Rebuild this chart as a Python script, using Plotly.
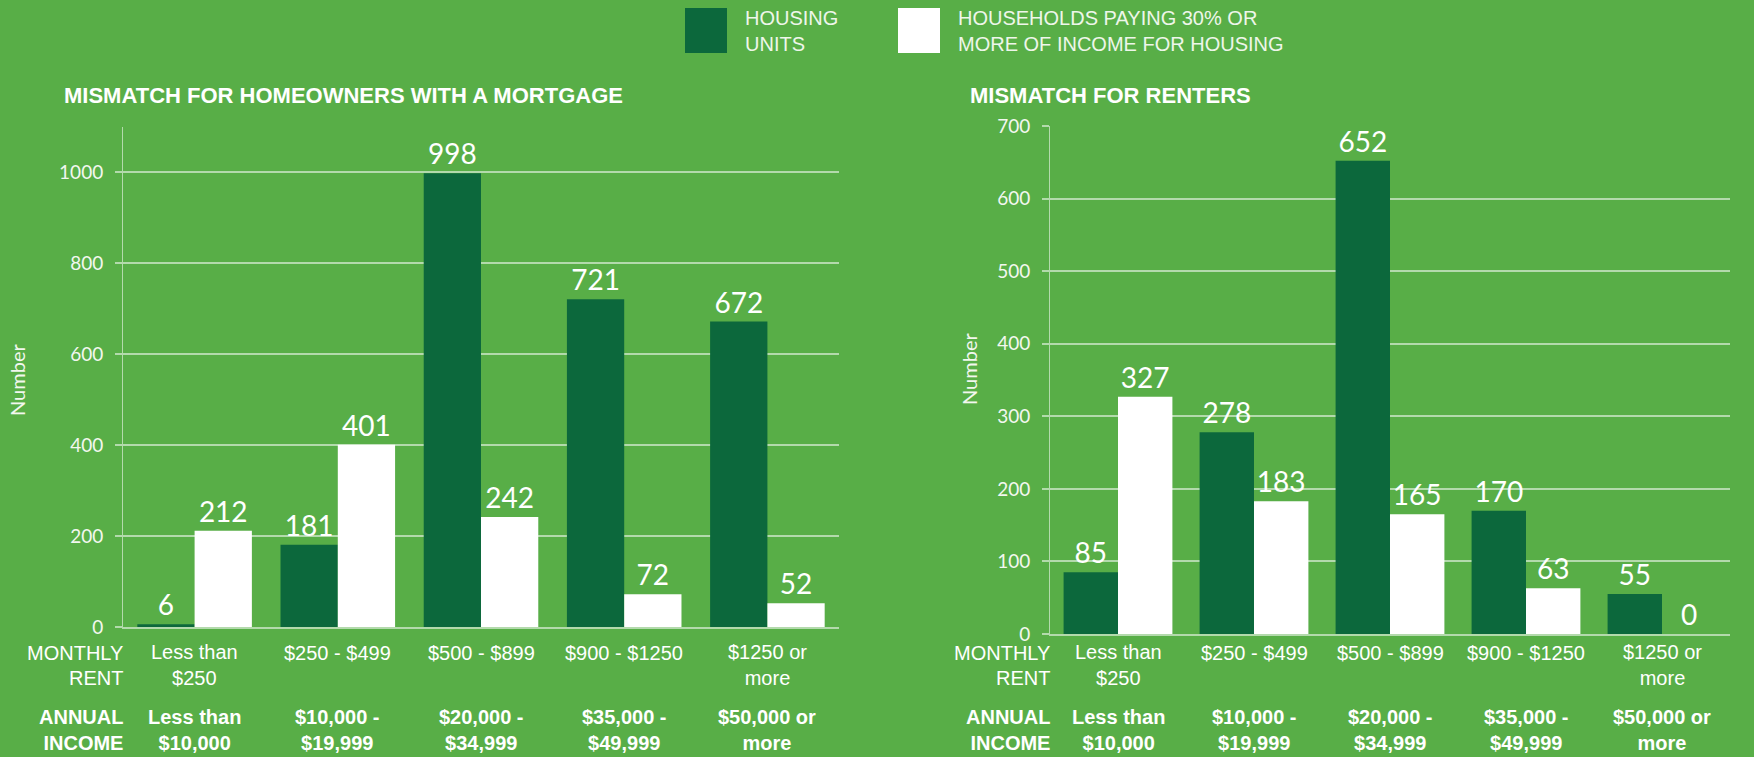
import plotly.graph_objects as go

W, H = 1754, 757

# ---------------- data ----------------
rent_labels = ["Less than<br>$250", "$250 - $499", "$500 - $899", "$900 - $1250", "$1250 or<br>more"]
income_labels = ["Less than<br>$10,000", "$10,000 -<br>$19,999", "$20,000 -<br>$34,999",
                 "$35,000 -<br>$49,999", "$50,000 or<br>more"]
categories = ["c1", "c2", "c3", "c4", "c5"]

owners_units = [6, 181, 998, 721, 672]
owners_burdened = [212, 401, 242, 72, 52]
renters_units = [85, 278, 652, 170, 55]
renters_burdened = [327, 183, 165, 63, 0]

series_names = ["HOUSING<br>UNITS", "HOUSEHOLDS PAYING 30% OR<br>MORE OF INCOME FOR HOUSING"]
chart_titles = ["MISMATCH FOR HOMEOWNERS WITH A MORTGAGE", "MISMATCH FOR RENTERS"]

# ---------------- style ----------------
BG = "#58AE47"
DARK = "#0C683C"
LIGHT = "#FFFFFF"
GRID = "rgba(255,255,255,0.55)"
LABEL_FONT = "Lato, 'Open Sans', sans-serif"
GOTHIC = "'Liberation Sans', Arial, sans-serif"


def px(x):
    return x / W


def py(y):
    return 1 - y / H


fig = go.Figure()

for (units, burdened, xa, ya) in [(owners_units, owners_burdened, "x", "y"),
                                   (renters_units, renters_burdened, "x2", "y2")]:
    for vals, col in [(units, DARK), (burdened, LIGHT)]:
        fig.add_trace(go.Bar(
            x=categories, y=vals, xaxis=xa, yaxis=ya,
            marker=dict(color=col, line=dict(width=14, color="rgba(0,0,0,0)")),
            text=[str(v) for v in vals], textposition="outside",
            textfont=dict(family=LABEL_FONT, size=28, color="white"),
            cliponaxis=False, constraintext="none", showlegend=False,
            hoverinfo="skip",
        ))

axis_common = dict(showgrid=False, zeroline=False, showticklabels=False, fixedrange=True,
                   showline=True, linecolor=GRID, linewidth=1.5, automargin=False)
yaxis_common = dict(showgrid=True, gridcolor=GRID, gridwidth=1.5, zeroline=False,
                    showline=True, linecolor=GRID, linewidth=1, ticks="outside",
                    ticklen=7, tickcolor=GRID, tickwidth=1.5, ticklabelstandoff=8,
                    automargin=False, fixedrange=True,
                    tickfont=dict(family=LABEL_FONT, size=19, color="#F2F7EF"))

L_X0, L_X1, L_Y0, L_Y1 = 123, 839, 627, 127
R_X0, R_X1, R_Y0, R_Y1 = 1050, 1730, 634, 126

fig.update_layout(
    width=W, height=H, autosize=False,
    margin=dict(l=0, r=0, t=0, b=0, pad=0, autoexpand=False),
    paper_bgcolor=BG, plot_bgcolor=BG, showlegend=False,
    barmode="group", bargap=0.2, bargroupgap=0,
    xaxis=dict(domain=[px(L_X0), px(L_X1)], anchor="y", **axis_common),
    yaxis=dict(domain=[py(L_Y0), py(L_Y1)], anchor="x", range=[0, 1100], dtick=200,
               tickvals=[0, 200, 400, 600, 800, 1000], **yaxis_common),
    xaxis2=dict(domain=[px(R_X0), px(R_X1)], anchor="y2", **axis_common),
    yaxis2=dict(domain=[py(R_Y0), py(R_Y1)], anchor="x2", range=[0, 700], dtick=100,
                **yaxis_common),
)

ann = []
# titles
ann.append(dict(text="<b>%s</b>" % chart_titles[0], x=px(62), y=py(95), xref="paper", yref="paper",
                xanchor="left", yanchor="middle", showarrow=False,
                font=dict(family=GOTHIC, size=22, color="white")))
ann.append(dict(text="<b>%s</b>" % chart_titles[1], x=px(968), y=py(95), xref="paper", yref="paper",
                xanchor="left", yanchor="middle", showarrow=False,
                font=dict(family=GOTHIC, size=22, color="white")))
# y titles
for xx, yy in [(17, 380), (969, 369)]:
    ann.append(dict(text="Number", x=px(xx), y=py(yy), xref="paper", yref="paper",
                    textangle=-90, showarrow=False, xanchor="center", yanchor="middle",
                    font=dict(family=LABEL_FONT, size=20, color="#F2F7EF")))

# category rows
ROW1, ROW2 = 665, 730
for xr, axis_right in [("x", L_X0), ("x2", R_X0)]:
    for line_txt, yy in [("MONTHLY", ROW1 - 12.5), ("RENT", ROW1 + 12.5)]:
        ann.append(dict(text=line_txt, x=px(axis_right + 2), y=py(yy), xref="paper", yref="paper",
                        xanchor="right", yanchor="middle", align="right", showarrow=False,
                        font=dict(family=GOTHIC, size=20, color="white")))
    ann.append(dict(text="<b>ANNUAL<br>INCOME</b>", x=px(axis_right + 2), y=py(ROW2), xref="paper",
                    yref="paper", xanchor="right", yanchor="middle", align="right", showarrow=False,
                    font=dict(family=GOTHIC, size=20, color="white")))
    for c, rl, il in zip(categories, rent_labels, income_labels):
        n_lines = rl.count("<br>") + 1
        yrow = ROW1 if n_lines == 2 else ROW1 - 12.5
        ann.append(dict(text=rl, x=c, y=py(yrow), xref=xr, yref="paper",
                        xanchor="center", yanchor="middle", align="center", showarrow=False,
                        font=dict(family=GOTHIC, size=20, color="white")))
        ann.append(dict(text="<b>%s</b>" % il, x=c, y=py(ROW2), xref=xr, yref="paper",
                        xanchor="center", yanchor="middle", align="center", showarrow=False,
                        font=dict(family=GOTHIC, size=20, color="white")))

# legend
shapes = []
for (x0, x1, col, tx, name) in [(685, 727, DARK, 743, series_names[0]),
                                (898, 940, LIGHT, 956, series_names[1])]:
    shapes.append(dict(type="rect", xref="paper", yref="paper", x0=px(x0), x1=px(x1),
                       y0=py(53), y1=py(8), fillcolor=col, line=dict(width=0)))
    ann.append(dict(text=name, x=px(tx), y=py(31), xref="paper", yref="paper",
                    xanchor="left", yanchor="middle", align="left", showarrow=False,
                    font=dict(family=GOTHIC, size=20, color="#EEF6EA")))

fig.update_layout(annotations=ann, shapes=shapes)
fig.write_html(
    "out.html",
    config={"displayModeBar": False},
    post_script="document.documentElement.style.margin='0';document.body.style.margin='0';"
                "document.body.style.background='%s';document.documentElement.style.overflow='hidden';"
                "document.body.style.overflow='hidden';" % BG,
)
